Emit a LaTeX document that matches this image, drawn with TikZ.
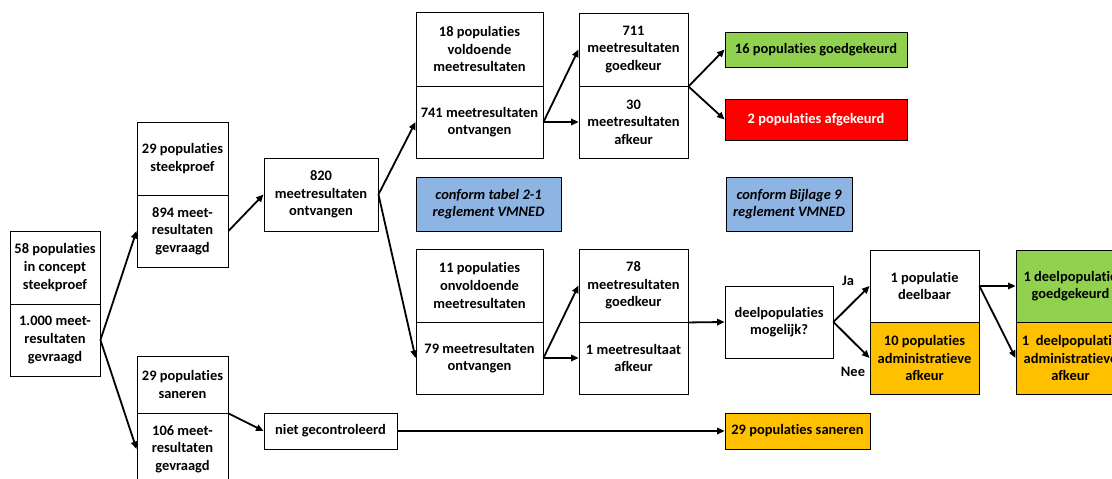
\documentclass[tikz,border=0pt]{standalone}
\usepackage{fontspec}
\setmainfont{Carlito}[Ligatures={NoCommon,NoContextual}]
\usetikzlibrary{arrows.meta}
\definecolor{cgreen}{HTML}{92D050}
\definecolor{cred}{HTML}{FF0000}
\definecolor{corange}{HTML}{FFC000}
\definecolor{cblue}{HTML}{8EB4E3}
\tikzset{
  box/.style={draw=black, line width=0.9bp, rectangle, inner sep=0pt, align=center,
    font=\fontsize{14.5}{17.7}\selectfont\bfseries},
  arr/.style={line width=1.8bp, -{Triangle[length=7.5bp,width=6.5bp]}},
  lab/.style={font=\fontsize{14.5}{17.7}\selectfont\bfseries, inner sep=0pt}
}
\begin{document}
\begin{tikzpicture}[x=1bp,y=-1bp]
\useasboundingbox (0,0) rectangle (1112,479);
\clip (0,0) rectangle (1112,479);
% column 1
\node[box, minimum width=90bp, minimum height=73bp] (Atop) at (55,267.5) {58 populaties\\in concept\\steekproef};
\node[box, minimum width=90bp, minimum height=72bp] (Abot) at (55,340) {1.000 meet-\\resultaten\\gevraagd};
% column 2
\node[box, minimum width=91bp, minimum height=73bp] (Btop) at (182.5,158.5) {29 populaties\\steekproef};
\node[box, minimum width=91bp, minimum height=72bp] (Bbot) at (182.5,231) {894 meet-\\resultaten\\gevraagd};
\node[box, minimum width=91bp, minimum height=57bp] (Ctop) at (182.5,384.5) {29 populaties\\saneren};
\node[box, minimum width=91bp, minimum height=72bp] (Cbot) at (182.5,449) {106 meet-\\resultaten\\gevraagd};
% column 3
\node[box, minimum width=114bp, minimum height=73bp] (D) at (321,194.5) {820\\meetresultaten\\ontvangen};
\node[box, minimum width=133bp, minimum height=36bp] (E) at (330.5,431) {niet gecontroleerd};
% column 4
\node[box, minimum width=127bp, minimum height=74bp] (F1top) at (479.5,49) {18 populaties\\voldoende\\meetresultaten};
\node[box, minimum width=127bp, minimum height=72bp] (F1bot) at (479.5,122) {741 meetresultaten\\ontvangen};
\node[box, minimum width=127bp, minimum height=73bp] (F2top) at (479.5,285.5) {11 populaties\\onvoldoende\\meetresultaten};
\node[box, minimum width=127bp, minimum height=72bp] (F2bot) at (479.5,358) {79 meetresultaten\\ontvangen};
\node[box, fill=cblue, minimum width=145bp, minimum height=54bp, font=\fontsize{14.5}{17.7}\selectfont\bfseries\itshape] (B1) at (488.5,204) {conform tabel 2-1\\reglement VMNED};
% column 5
\node[box, minimum width=109bp, minimum height=73bp] (G1top) at (633.5,49.5) {711\\meetresultaten\\goedkeur};
\node[box, minimum width=109bp, minimum height=72bp] (G1bot) at (633.5,122) {30\\meetresultaten\\afkeur};
\node[box, minimum width=109bp, minimum height=73bp] (G2top) at (633.5,285.5) {78\\meetresultaten\\goedkeur};
\node[box, minimum width=109bp, minimum height=72bp] (G2bot) at (633.5,358) {1 meetresultaat\\afkeur};
% column 6
\node[box, fill=cgreen, minimum width=182bp, minimum height=35bp] (H1) at (816,49.5) {16 populaties goedgekeurd};
\node[box, fill=cred, text=white, minimum width=182bp, minimum height=41bp] (H2) at (816,119.5) {2 populaties afgekeurd};
\node[box, fill=cblue, minimum width=126bp, minimum height=54bp, font=\fontsize{14.5}{17.7}\selectfont\bfseries\itshape] (B2) at (789,204) {conform Bijlage 9\\reglement VMNED};
\node[box, minimum width=108bp, minimum height=72bp] (K) at (779,322) {deelpopulaties\\mogelijk?};
\node[box, fill=corange, minimum width=145bp, minimum height=36bp] (S) at (797.5,431) {29 populaties saneren};
% column 7
\node[box, minimum width=109bp, minimum height=72bp] (Itop) at (924.5,286) {1 populatie\\deelbaar};
\node[box, fill=corange, minimum width=109bp, minimum height=72bp] (Ibot) at (924.5,358) {10 populaties\\administratieve\\afkeur};
% column 8 (cut off by the right edge, as in the reference)
\node[box, fill=cgreen, minimum width=109bp, minimum height=72bp] (Jtop) at (1070.5,286) {1 deelpopulatie\\goedgekeurd};
\node[box, fill=corange, minimum width=109bp, minimum height=72bp] (Jbot) at (1070.5,358) {1\ \ deelpopulatie\\administratieve\\afkeur};
% labels
\node[lab] (ja) at (848,281) {Ja};
\node[lab] (nee) at (853,372) {Nee};
% arrows
\draw[arr] (Abot.east) -- (Bbot.west);
\draw[arr] (Abot.east) -- (Cbot.west);
\draw[arr] (Bbot.east) -- (D.west);
\draw[arr] (Ctop.south east) -- (E.west);
\draw[arr] (D.east) -- (F1bot.west);
\draw[arr] (D.east) -- (F2bot.west);
\draw[arr] (F1bot.east) -- (G1top.west);
\draw[arr] (F1bot.east) -- (G1bot.west);
\draw[arr] (F2bot.east) -- (G2top.west);
\draw[arr] (F2bot.east) -- (G2bot.west);
\draw[arr] (G1top.south east) -- (H1.west);
\draw[arr] (G1top.south east) -- (H2.west);
\draw[arr] (G2top.south east) -- (K.west);
\draw[arr] (K.east) -- (Itop.west);
\draw[arr] (K.east) -- (Ibot.west);
\draw[arr] (Itop.east) -- (Jtop.west);
\draw[arr] (Itop.east) -- (Jbot.west);
\draw[arr] (E.east) -- (S.west);
\end{tikzpicture}
\end{document}
